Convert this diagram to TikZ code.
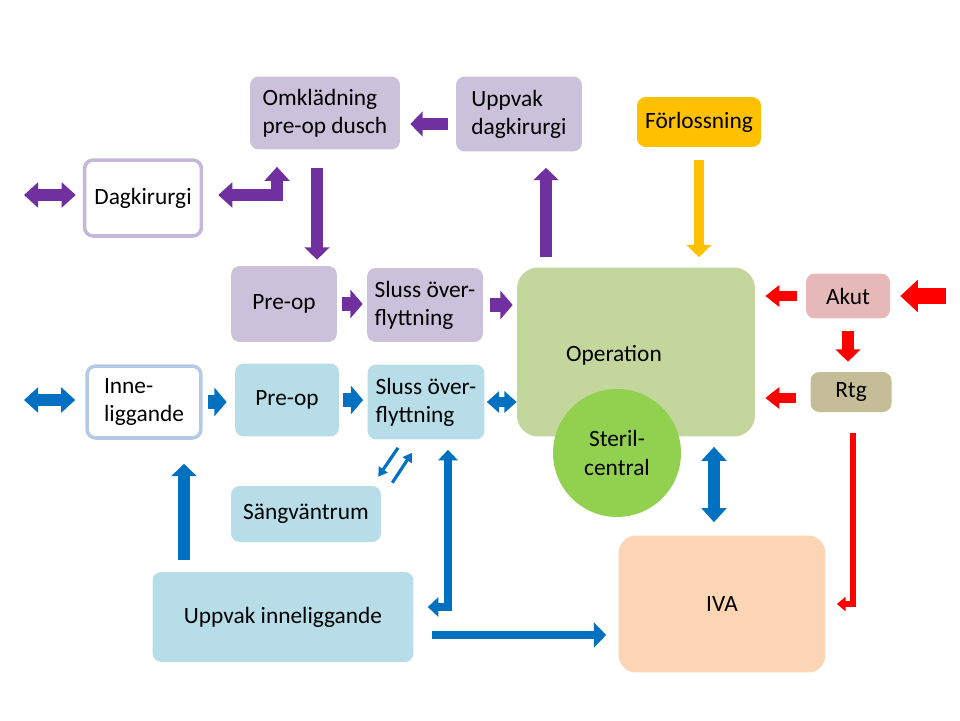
\documentclass[tikz,border=0pt]{standalone}
\usepackage{fontspec}
\setmainfont{Carlito}
\usetikzlibrary{arrows.meta}

\definecolor{lila}{HTML}{7030A0}
\definecolor{lilabox}{HTML}{CCC1DA}
\definecolor{lilaram}{HTML}{C3B8D8}
\definecolor{bla}{HTML}{0070C0}
\definecolor{blabox}{HTML}{B7DEE8}
\definecolor{blaram}{HTML}{B4C9E6}
\definecolor{rod}{HTML}{FF0000}
\definecolor{gul}{HTML}{FFC000}
\definecolor{opgron}{HTML}{C3D69B}
\definecolor{sterilgron}{HTML}{92D050}
\definecolor{akutrosa}{HTML}{E6B9B8}
\definecolor{rtgbrun}{HTML}{C4BD97}
\definecolor{ivapersika}{HTML}{FCD5B5}

\begin{document}
\begin{tikzpicture}[x=0.02cm, y=-0.02cm,
      box/.style={rounded corners=5pt, inner sep=2pt, align=left,
         font=\fontsize{13.3}{16}\selectfont},
      lbox/.style={box, fill=lilabox},
      bbox/.style={box, fill=blabox},
      pil/.style={line width=6.5pt, -{Triangle[width=14pt,length=7pt]}},
      tjock/.style={line width=8pt, -{Triangle[width=16pt,length=7pt]}},
      dpil/.style={line width=6.5pt,
         {Triangle[width=14pt,length=8pt]}-{Triangle[width=14pt,length=8pt]}},
      smal/.style={line width=1.8pt, -{Triangle[width=6pt,length=5pt]}}]

   \useasboundingbox (0,0) rectangle (960,720);

   % lila flöde
   \node[lbox, minimum width=3cm, minimum height=1.46cm] (omk) at (325,113)
      {Omklädning\\pre-op dusch};
   \node[lbox, minimum width=2.52cm, minimum height=1.5cm] (upd) at (519,114)
      {Uppvak\\dagkirurgi};
   \node[box, fill=white, draw=lilaram, line width=2pt,
      minimum width=2.34cm, minimum height=1.52cm] (dag) at (143,198) {Dagkirurgi};
   \node[lbox, minimum width=2.12cm, minimum height=1.52cm] (ppre) at (284,304) {Pre-op};
   \node[lbox, minimum width=2.32cm, minimum height=1.48cm] (psl) at (425,305)
      {Sluss över-\\flyttning};

   % mitten
   \node[box, fill=gul, minimum width=2.48cm, minimum height=1cm] (forl) at (699,122)
      {Förlossning};
   \node[box, rounded corners=12pt, fill=opgron,
      minimum width=4.76cm, minimum height=3.38cm] (op) at (636,352) {};
   \node[box] (oplbl) at (614,355) {Operation};
   \node[circle, fill=sterilgron, minimum size=2.56cm, inner sep=0pt, align=center,
      font=\fontsize{13.3}{16}\selectfont] (ster) at (617,453) {Steril-\\central};
   \node[box, fill=akutrosa, minimum width=1.68cm, minimum height=0.9cm] (akut) at (848,296)
      {Akut};
   \node[box, fill=rtgbrun, minimum width=1.62cm, minimum height=0.8cm] (rtg) at (851,392)
      {Rtg};

   % blått flöde
   \node[box, fill=white, draw=blaram, line width=2pt,
      minimum width=2.28cm, minimum height=1.44cm] (inn) at (144,402) {Inne-\\liggande};
   \node[bbox, minimum width=2.08cm, minimum height=1.46cm] (bpre) at (287,400) {Pre-op};
   \node[bbox, minimum width=2.34cm, minimum height=1.5cm] (bsl) at (426,402)
      {Sluss över-\\flyttning};
   \node[bbox, minimum width=3cm, minimum height=1.12cm] (sang) at (306,514) {Sängväntrum};
   \node[bbox, minimum width=5.22cm, minimum height=1.8cm] (uin) at (283,617)
      {Uppvak inneliggande};
   \node[box, rounded corners=10pt, fill=ivapersika,
      minimum width=4.14cm, minimum height=2.74cm] (iva) at (722,604) {IVA};

   \coordinate (dagut) at (24,195);
   \coordinate (innut) at (24,400);
   \coordinate (akutin) at (946,296);

   % lila pilar
   \draw[pil, lila, shorten <=0.16cm, shorten >=0.2cm]
      ([yshift=-0.2cm]upd.west) -- ([yshift=-0.2cm]upd.west -| omk.east);
   \draw[pil, lila, shorten <=0.36cm, shorten >=0.12cm]
      ([xshift=-0.16cm]omk.south) -- ([xshift=-0.16cm]omk.south |- ppre.north);
   \draw[pil, lila, shorten <=0.2cm, shorten >=0.32cm]
      ([xshift=0.54cm]upd.south |- op.north) -- ([xshift=0.54cm]upd.south);
   \draw[dpil, lila, shorten <=0.34cm, shorten >=0.3cm]
      ([xshift=-0.96cm]omk.south) |- ([yshift=0.06cm]dag.east);
   \draw[dpil, lila, shorten <=0.14cm] (dag.west |- dagut) -- (dagut);
   \draw[tjock, lila, shorten <=0.1cm, shorten >=0.08cm] (ppre.east) -- (ppre.east -| psl.west);
   \draw[tjock, lila, shorten <=0.14cm, shorten >=0.08cm] (psl.east) -- (psl.east -| op.west);

   % gul pil
   \draw[pil, gul, line width=5.5pt, shorten <=0.26cm, shorten >=0.2cm]
      (forl.south) -- (forl.south |- op.north);

   % röda pilar
   \draw[rod, line width=9.5pt, -{Triangle[width=18pt,length=10pt]}, shorten >=0.2cm]
      (akutin) -- (akutin -| akut.east);
   \draw[rod, line width=6pt, -{Triangle[width=12pt,length=8pt]}, shorten <=0.18cm, shorten >=0.2cm]
      (akut.west) -- (akut.west -| op.east);
   \draw[pil, rod, shorten <=0.24cm, shorten >=0.2cm] (akut.south) -- (akut.south |- rtg.north);
   \draw[rod, line width=6pt, -{Triangle[width=12pt,length=8pt]}, shorten <=0.28cm, shorten >=0.2cm]
      ([yshift=-0.12cm]rtg.west) -- ([yshift=-0.12cm]rtg.west -| op.east);
   \draw[rod, line width=3pt, -{Triangle[width=8pt,length=5pt]}, shorten <=0.42cm, shorten >=0.22cm]
      ([xshift=0.04cm]rtg.south) |- (iva.east);

   % blå pilar
   \draw[dpil, bla, shorten <=0.2cm] (inn.west |- innut) -- (innut);
   \draw[tjock, bla, shorten <=0.1cm, shorten >=0.16cm] (inn.east) -- (inn.east -| bpre.west);
   \draw[tjock, bla, shorten <=0.08cm, shorten >=0.08cm] (bpre.east) -- (bpre.east -| bsl.west);
   \draw[bla, line width=5.5pt,
      {Triangle[width=12pt,length=7pt]}-{Triangle[width=12pt,length=7pt]}, shorten <=0.04cm]
      (bsl.east) -- (bsl.east -| op.west);
   \draw[dpil, bla, shorten <=0.2cm, shorten >=0.26cm]
      ([xshift=-0.16cm]iva.north |- op.south) -- ([xshift=-0.16cm]iva.north);
   \draw[pil, bla, line width=5pt, shorten <=0.36cm, shorten >=0.24cm]
      ([yshift=-0.36cm]uin.east) -- ([yshift=-0.36cm]uin.east -| iva.west);
   \draw[pil, bla, shorten <=0.24cm, shorten >=0.48cm]
      ([xshift=0.8cm]inn.south |- uin.north) -- ([xshift=0.8cm]inn.south);
   \draw[bla, line width=5pt,
      {Triangle[width=11pt,length=6pt]}-{Triangle[width=11pt,length=6pt]},
      shorten <=0.2cm, shorten >=0.28cm]
      ([xshift=0.44cm]bsl.south) |- ([yshift=0.2cm]uin.east);
   \draw[smal, bla] ([shift={(-28,8)}]bsl.south) -- ([shift={(-3,-9)}]sang.north east);
   \draw[smal, bla] ([shift={(11,-3)}]sang.north east) -- ([shift={(-14,13)}]bsl.south);
\end{tikzpicture}
\end{document}
